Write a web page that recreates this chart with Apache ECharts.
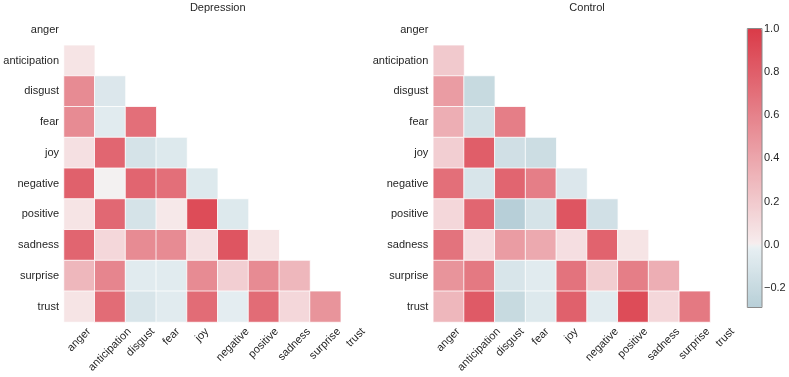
<!DOCTYPE html>
<html>
<head>
<meta charset="utf-8">
<script src="https://cdn.jsdelivr.net/npm/echarts@6/dist/echarts.min.js"></script>
<style>
html,body{margin:0;padding:0;background:#fff;}
#chart{width:789px;height:377px;}
</style>
</head>
<body>
<div id="chart"></div>
<script>
const categories = ['anger','anticipation','disgust','fear','joy','negative','positive','sadness','surprise','trust'];

// lower-triangle rows: row i holds correlations with categories 0..i-1
const depressionRows = [
  [],
  [0.05],
  [0.55, -0.08],
  [0.55, -0.05, 0.70],
  [0.07, 0.75, -0.12, -0.07],
  [0.78, 0.00, 0.76, 0.70, -0.07],
  [0.05, 0.74, -0.12, 0.03, 0.90, -0.07],
  [0.76, 0.12, 0.55, 0.55, 0.07, 0.85, 0.05],
  [0.30, 0.58, -0.05, -0.05, 0.55, 0.17, 0.55, 0.30],
  [0.05, 0.72, -0.10, -0.05, 0.72, -0.03, 0.72, 0.12, 0.50]
];

const controlRows = [
  [],
  [0.20],
  [0.45, -0.20],
  [0.35, -0.13, 0.62],
  [0.17, 0.80, -0.15, -0.17],
  [0.70, -0.10, 0.76, 0.62, -0.08],
  [0.12, 0.75, -0.29, -0.12, 0.85, -0.14],
  [0.68, 0.08, 0.45, 0.38, 0.08, 0.77, 0.05],
  [0.50, 0.65, -0.10, -0.05, 0.68, 0.18, 0.62, 0.35],
  [0.30, 0.82, -0.20, -0.07, 0.78, -0.05, 0.90, 0.12, 0.65]
];

const titles = ['Depression', 'Control'];
const colorMin = -0.29;
const colorMax = 1.0;

// ---- styling helpers ----
const FONT = 'Liberation Sans, Arial, Helvetica, sans-serif';
const TXT = '#262626';

function toTriples(rows) {
  const out = [];
  rows.forEach((row, i) => row.forEach((v, j) => out.push([j, i, v])));
  return out;
}

// diverging palette (blue 220 -> light -> red 10), centred on 0
const negDark = [59, 124, 146], negLight = [234, 241, 244];
const mid = [242, 242, 242];
const posLight = [247, 237, 238], posDark = [218, 58, 72];
function mix(a, b, t) { return a.map((x, k) => Math.round(x + (b[k] - x) * t)); }
function colorAt(v) {
  let c;
  if (v < -0.004) c = mix(negLight, negDark, -v);
  else if (v > 0.004) c = mix(posLight, posDark, v);
  else c = mid;
  return 'rgb(' + c.join(',') + ')';
}
const stops = [];
const N = 130;
for (let k = 0; k <= N; k++) stops.push(colorAt(colorMin + (colorMax - colorMin) * k / N));

// measure labels for matplotlib-like centred rotated x labels
const cv = document.createElement('canvas').getContext('2d');
cv.font = '11px ' + FONT;
const H = 12;
function xCat(name) {
  const w = cv.measureText(name).width;
  const R = (w + H) / 2;
  const T = Math.max(0, (w - H) / 4);
  return { value: name, textStyle: {
    align: 'center', verticalAlign: 'top', padding: [T, R, 0, 0],
    fontSize: 11, fontFamily: FONT, color: TXT } };
}

const G = [
  { left: 64, top: 14.5, width: 307.5, height: 307.5 },
  { left: 433.3, top: 14.5, width: 307.5, height: 307.5 }
];

const grids = G.map(g => Object.assign({ containLabel: false, outerBoundsMode: 'none' }, g));
grids.push({ left: 747.3, top: 28.5, width: 14.7, height: 279, show: true, borderColor: '#8a8a8a', borderWidth: 1,
  backgroundColor: 'transparent', z: 5, containLabel: false, outerBoundsMode: 'none' });

const xAxes = [0, 1].map(gi => ({
  type: 'category', gridIndex: gi, data: categories.map(xCat),
  axisLine: { show: false }, axisTick: { show: false }, splitLine: { show: false },
  axisLabel: { rotate: 45, margin: 4, interval: 0, hideOverlap: false,
    fontSize: 11, fontFamily: FONT, color: TXT }
}));
xAxes.push({ type: 'value', gridIndex: 2, show: false, min: 0, max: 1 });

const yAxes = [0, 1].map(gi => ({
  type: 'category', gridIndex: gi, data: categories, inverse: true,
  axisLine: { show: false }, axisTick: { show: false }, splitLine: { show: false },
  axisLabel: { margin: 5, interval: 0, fontSize: 11, fontFamily: FONT, color: TXT }
}));
yAxes.push({
  type: 'value', gridIndex: 2, position: 'right', min: colorMin, max: colorMax, splitNumber: 6,
  axisLine: { show: false }, axisTick: { show: false }, splitLine: { show: false },
  axisLabel: { showMinLabel: false, margin: 2, fontSize: 11, fontFamily: FONT, color: TXT,
    formatter: v => (v < 0 ? '\u2212' : '') + Math.abs(v).toFixed(1) }
});

const chart = echarts.init(document.getElementById('chart'), null, { renderer: 'canvas' });
chart.setOption({
  animation: false,
  backgroundColor: '#fff',
  title: titles.map((t, i) => ({
    text: t, left: G[i].left + G[i].width / 2, top: 2, textAlign: 'center', padding: 0,
    textStyle: { fontSize: 11, fontWeight: 'normal', fontFamily: FONT, color: TXT }
  })),
  grid: grids,
  xAxis: xAxes,
  yAxis: yAxes,
  visualMap: {
    type: 'continuous', min: colorMin, max: colorMax, calculable: false, seriesIndex: [0, 1],
    orient: 'vertical', left: 747.3, top: 28.5, itemWidth: 14.7, itemHeight: 279, padding: 0,
    inRange: { color: stops }, text: null, showLabel: false, hoverLink: false
  },
  series: [depressionRows, controlRows].map((rows, i) => ({
    type: 'heatmap', xAxisIndex: i, yAxisIndex: i, data: toTriples(rows),
    itemStyle: { borderColor: '#ffffff', borderWidth: 0.8 },
    emphasis: { disabled: true }, label: { show: false }
  }))
});
</script>
</body>
</html>
